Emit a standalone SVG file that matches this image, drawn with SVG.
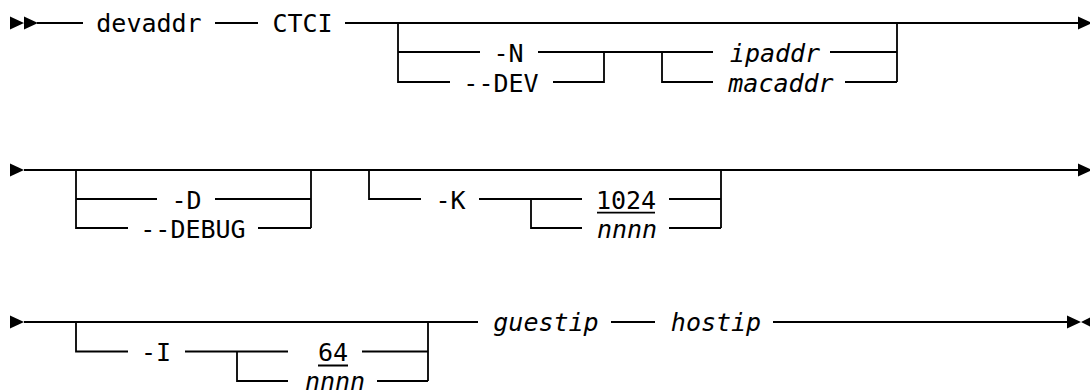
<svg xmlns="http://www.w3.org/2000/svg" width="1090" height="392" viewBox="0 0 1090 392">
<style>
.t{font-family:"DejaVu Sans Mono","Liberation Mono",monospace;font-size:25px;fill:#000;text-anchor:middle}
.i{font-style:italic}
.l{fill:none;stroke:#000;stroke-width:1.8}
.a{fill:#000}
</style>
<rect width="1090" height="392" fill="#fff"/>
<g id="connectors">
<path class="l" d="M37 23H83M215 23H258M345 23H1080M398 23V82H450M398 52H480M538 52H713M604 52V82H553M662 52V82H713M830 52H897M845 82H897M897 23V82"/>
<path class="l" d="M24 170H1080M76 170V228H128M76 199H157M215 199H311M258 228H311M311 170V228M369 170V199H421M479 199H582M531 199V228H582M669 199H721M669 228H721M721 170V228"/>
<path class="l" d="M24 322H478M76 322V351.5H128M185 351.5H288M237 351.5V381H288M362 351.5H428M377 381H428M428 322V381M611 322H655M773 322H1067"/>
<path class="l" d="M597 212.7H655M318 365.5H348"/>
<path class="a" d="M10 16.5L24 23L10 29.5ZM24 16.5L38 23L24 29.5Z"/>
<path class="a" d="M1078 16.5L1092 23L1078 29.5Z"/>
<path class="a" d="M10 163.5L24 170L10 176.5Z"/>
<path class="a" d="M1078 163.5L1092 170L1078 176.5Z"/>
<path class="a" d="M10 315.5L24 322L10 328.5Z"/>
<path class="a" d="M1067 315.5L1081 322L1067 328.5ZM1094 315.5L1081 322L1094 328.5Z"/>
</g>
<g id="devaddr"><text class="t" x="149" y="32">devaddr</text></g>
<g id="ctci"><text class="t" x="302.5" y="32">CTCI</text></g>
<g id="opt-n"><text class="t" x="508.5" y="61.5">-N</text></g>
<g id="opt-dev"><text class="t" x="501" y="91.5">--DEV</text></g>
<g id="ipaddr"><text class="t i" x="775" y="61.5">ipaddr</text></g>
<g id="macaddr"><text class="t i" x="781" y="91.5">macaddr</text></g>
<g id="opt-d"><text class="t" x="186.5" y="208.5">-D</text></g>
<g id="opt-debug"><text class="t" x="193" y="237.5">--DEBUG</text></g>
<g id="opt-k"><text class="t" x="450.5" y="208.5">-K</text></g>
<g id="k-1024"><text class="t" x="626" y="208.5">1024</text></g>
<g id="k-nnnn"><text class="t i" x="627" y="237.5">nnnn</text></g>
<g id="opt-i"><text class="t" x="156" y="360.5">-I</text></g>
<g id="i-64"><text class="t" x="333" y="360.5">64</text></g>
<g id="i-nnnn"><text class="t i" x="335" y="389.5">nnnn</text></g>
<g id="guestip"><text class="t i" x="546" y="331">guestip</text></g>
<g id="hostip"><text class="t i" x="716" y="331">hostip</text></g>
</svg>
